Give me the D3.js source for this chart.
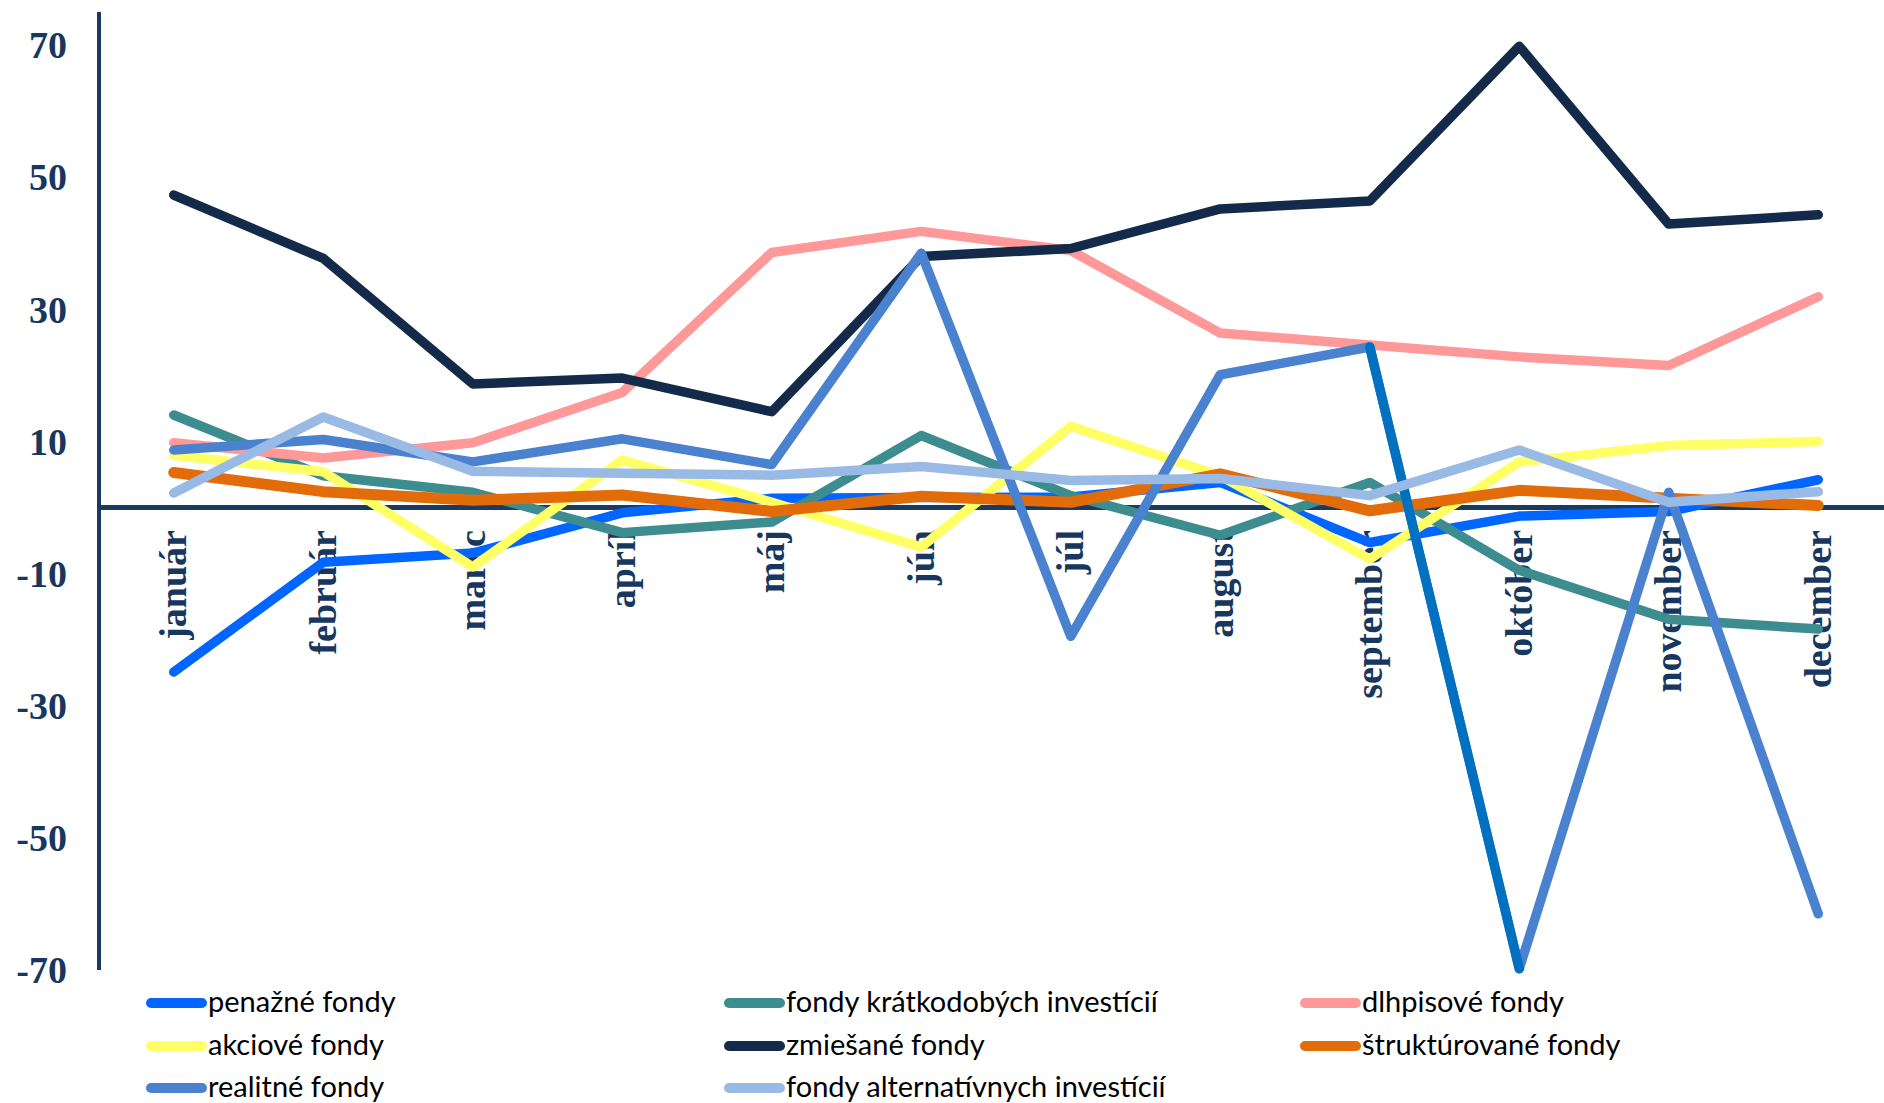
<!DOCTYPE html>
<html>
<head>
<meta charset="utf-8">
<script src="https://cdn.jsdelivr.net/npm/d3@7"></script>
<style>
  body { margin: 0; background: #ffffff; }
  .line { fill: none; stroke-linecap: round; stroke-linejoin: round; }
  .tick-label { font-family: "Liberation Serif", "Times New Roman", serif; font-weight: bold; font-size: 38px; fill: #17375e; }
  .legend-label { font-family: Lato, "Open Sans", sans-serif; font-size: 29px; fill: #000000; }
</style>
</head>
<body>
<script>
// Categories (months)
var months = ["január", "február", "marec", "apríl", "máj", "jún", "júl",
  "august", "september", "október", "november", "december"];

// Series values
var penazne = [-24.9, -8.3, -6.9, -0.8, 1.4, 1.5, 1.6, 3.8, -5.3, -1.3, -0.6, 4.2];
var kratkodobe = [14.0, 4.8, 2.3, -3.8, -2.2, 10.9, 1.8, -4.2, 3.8, -9.5, -16.9, -18.4];
var dlhopisove = [9.8, 7.5, 9.8, 17.4, 38.6, 41.8, 38.9, 26.4, 24.6, 22.8, 21.5, 31.9];
var akciove = [7.9, 5.4, -9.0, 7.2, 0.8, -6.0, 12.3, 4.8, -7.8, 6.9, 9.4, 10.0];
var zmiesane = [47.3, 37.7, 18.7, 19.6, 14.5, 38.0, 39.2, 45.2, 46.4, 69.8, 42.9, 44.3];
var strukturovane = [5.3, 2.4, 1.1, 1.9, -0.6, 1.7, 0.8, 5.1, -0.5, 2.6, 1.4, 0.3];
var realitne = [8.7, 10.3, 6.9, 10.4, 6.5, 38.5, -19.5, 20.1, 24.3, -69.8, 2.3, -61.5];
var alternativne = [2.2, 13.7, 5.5, 5.2, 4.9, 6.2, 4.1, 4.4, 1.8, 8.7, 0.8, 2.4];

// Series names in legend order
var seriesNames = ["penažné fondy", "fondy krátkodobých investícií", "dlhpisové fondy",
  "akciové fondy", "zmiešané fondy", "štruktúrované fondy",
  "realitné fondy", "fondy alternatívnych investícií"];
var seriesValues = [penazne, kratkodobe, dlhopisove, akciove, zmiesane, strukturovane, realitne, alternativne];
var seriesColors = ["#0066ff", "#3d8c8f", "#ff9999", "#ffff66", "#132a4a", "#e36c0a", "#4a82d0", "#99bae5"];
var seriesWidths = [9.5, 9.5, 9.5, 9.5, 9.5, 11, 9.5, 9.5];

// One segment of realitné fondy has its own colour
var realitneHighlight = ["september", "október"];
var highlightColor = "#0070c0";

// Y axis tick labels
var yTicks = [-70, -50, -30, -10, 10, 30, 50, 70];

// Define SVG area dimensions
var svgWidth = 1884;
var svgHeight = 1103;

var svg = d3.select("body")
  .append("svg")
  .attr("width", svgWidth)
  .attr("height", svgHeight);

// Scales
var xBandScale = d3.scaleBand().domain(months).range([99, 1893]);
var yLinearScale = d3.scaleLinear().domain([-70, 75]).range([970, 12]);

function xPos(m) {
  return xBandScale(m) + xBandScale.bandwidth() / 2;
}

// Zero line
svg.append("line")
  .attr("x1", 99)
  .attr("x2", svgWidth)
  .attr("y1", yLinearScale(0))
  .attr("y2", yLinearScale(0))
  .attr("stroke", "#1b3a5f")
  .attr("stroke-width", 5);

// Vertical axis line
svg.append("line")
  .attr("x1", 99)
  .attr("x2", 99)
  .attr("y1", yLinearScale(75))
  .attr("y2", yLinearScale(-70))
  .attr("stroke", "#1b3a5f")
  .attr("stroke-width", 4);

// Y tick labels
svg.selectAll(".ylab")
  .data(yTicks)
  .enter()
  .append("text")
  .attr("class", "tick-label")
  .attr("x", 67)
  .attr("y", function (d) { return yLinearScale(d); })
  .attr("dy", "0.35em")
  .attr("text-anchor", "end")
  .text(function (d) { return d; });

// X category labels, rotated
svg.selectAll(".xlab")
  .data(months)
  .enter()
  .append("text")
  .attr("class", "tick-label")
  .attr("text-anchor", "end")
  .attr("transform", function (d) {
    return "translate(" + xPos(d) + "," + 530 + ") rotate(-90)";
  })
  .attr("dy", "0.33em")
  .text(function (d) { return d; });

// Line generator
var drawLine = d3.line()
  .x(function (d) { return xPos(d.month); })
  .y(function (d) { return yLinearScale(d.value); });

seriesValues.forEach(function (values, i) {
  var points = months.map(function (m, j) { return { month: m, value: values[j] }; });
  svg.append("path")
    .attr("class", "line")
    .attr("d", drawLine(points))
    .attr("stroke", seriesColors[i])
    .attr("stroke-width", seriesWidths[i]);

  if (values === realitne) {
    var seg = points.filter(function (p) { return realitneHighlight.indexOf(p.month) >= 0; });
    svg.append("path")
      .attr("class", "line")
      .attr("d", drawLine(seg))
      .attr("stroke", highlightColor)
      .attr("stroke-width", seriesWidths[i]);
  }
});

// Legend, three columns
var legendCols = [147, 725, 1301];
var legendRows = [1003, 1046, 1088];

var legend = svg.selectAll(".legend")
  .data(seriesNames)
  .enter()
  .append("g")
  .attr("transform", function (d, i) {
    return "translate(" + legendCols[i % 3] + "," + legendRows[Math.floor(i / 3)] + ")";
  });

legend.append("line")
  .attr("x1", 4)
  .attr("x2", 55)
  .attr("y1", 0)
  .attr("y2", 0)
  .attr("stroke-width", 10)
  .attr("stroke-linecap", "round")
  .attr("stroke", function (d, i) { return seriesColors[i]; });

legend.append("text")
  .attr("class", "legend-label")
  .attr("x", 61)
  .attr("y", 0)
  .attr("dy", "0.31em")
  .text(function (d) { return d; });
</script>
</body>
</html>
